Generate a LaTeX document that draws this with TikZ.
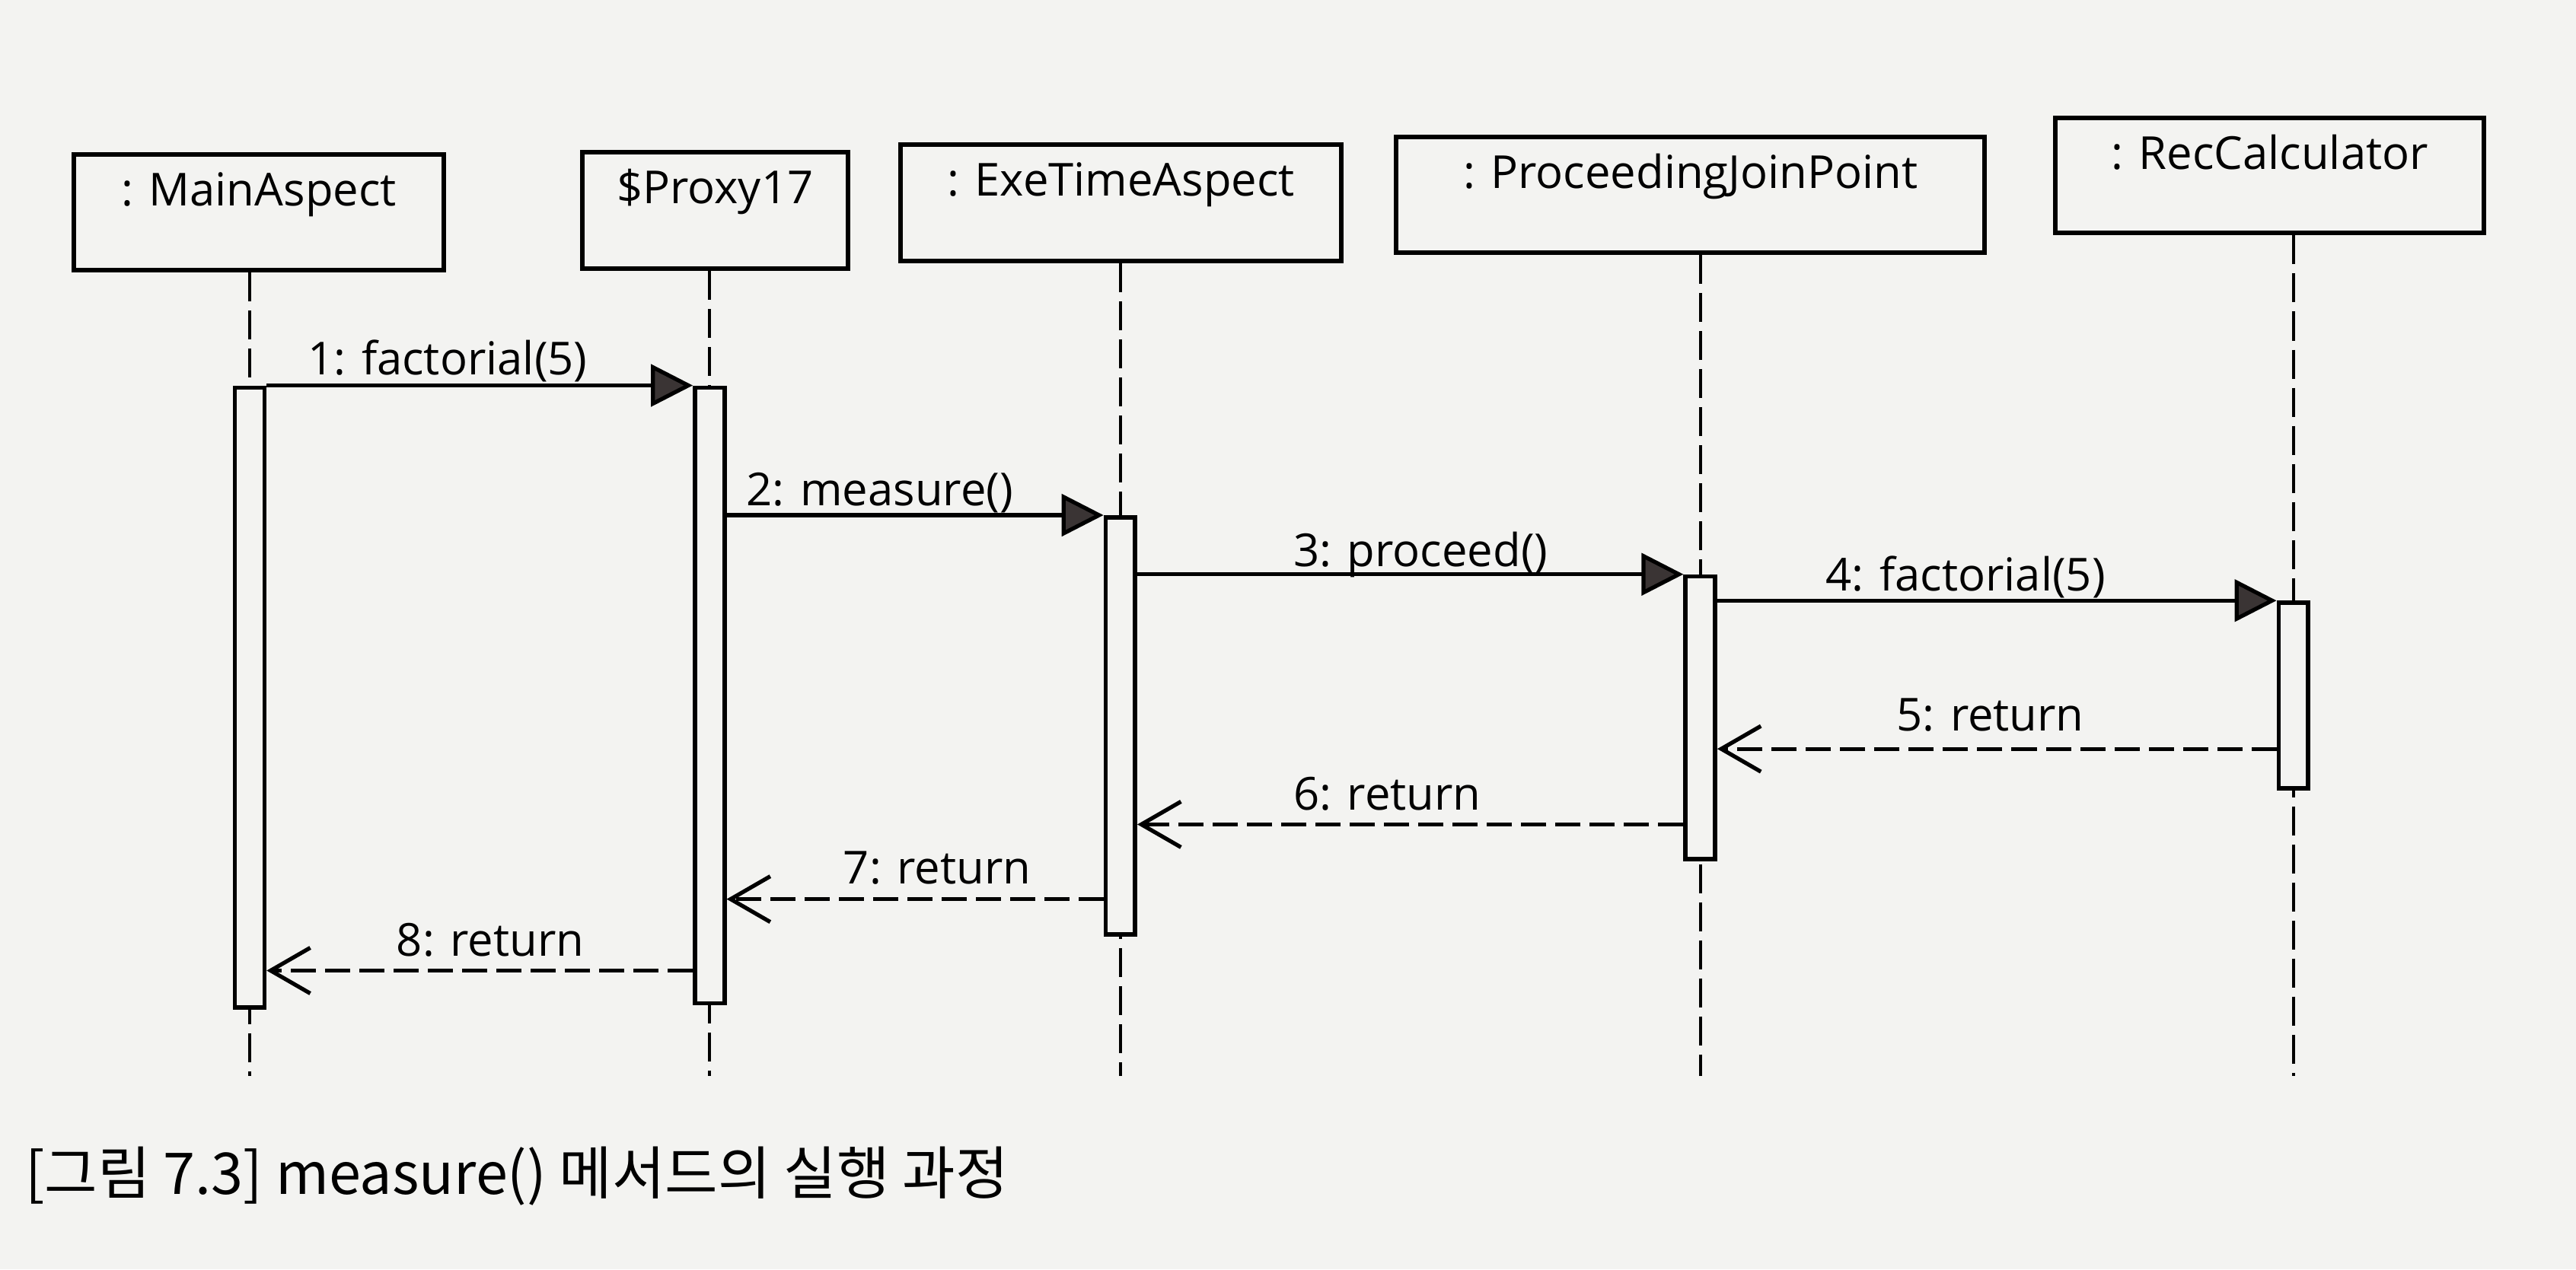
\documentclass[tikz,border=0pt]{standalone}
\usepackage{fontspec}
\setmainfont{Open Sans}
\newfontfamily\krfont{Noto Sans CJK KR}
\usetikzlibrary{arrows.meta,calc}
\definecolor{paper}{HTML}{F3F3F1}
\definecolor{tipfill}{HTML}{3A3434}
\begin{document}
\begin{tikzpicture}[x=0.02158cm,y=-0.02158cm,
  obj/.style={draw=black, line width=1.7pt, fill=paper, inner sep=0pt},
  objtext/.style={anchor=base, font=\fontsize{17}{20}\selectfont, inner sep=0pt},
  msgtext/.style={anchor=base west, font=\fontsize{17}{20}\selectfont, inner sep=0pt},
  lifeline/.style={line width=1.2pt, dash pattern=on 0.38cm off 0.12cm},
  actbar/.style={draw=black, line width=1.6pt, fill=paper, inner sep=0pt, minimum width=18*0.02158cm},
  call/.style={line width=1.5pt, -{Triangle[length=0.55cm,width=0.55cm,fill=tipfill]}},
  ret/.style={line width=1.5pt, dash pattern=on 0.33cm off 0.12cm, -{Straight Barb[length=0.52cm,width=0.6cm]}},
]
\fill[paper] (0,0) rectangle (1568,773);
\useasboundingbox (0,0) rectangle (1568,773);

% objects
\node[obj, minimum width=225*0.02158cm, minimum height=70.5*0.02158cm] (ma) at (157.5,129.25) {};
\node[obj, minimum width=161.5*0.02158cm, minimum height=71*0.02158cm] (px) at (435.25,128.2) {};
\node[obj, minimum width=268.6*0.02158cm, minimum height=71*0.02158cm] (et) at (682.3,123.5) {};
\node[obj, minimum width=358*0.02158cm, minimum height=70.6*0.02158cm] (pjp) at (1029,118.7) {};
\node[obj, minimum width=261*0.02158cm, minimum height=70*0.02158cm] (rc) at (1381.5,107) {};

\node[objtext] (mat) at ($(ma.north)+(0,32.5)$) {: MainAspect};
\node[objtext] (pxt) at ($(px.north)+(0,32.5)$) {\$Proxy17};
\node[objtext] (ett) at ($(et.north)+(0,32.5)$) {: ExeTimeAspect};
\node[objtext] (pjpt) at ($(pjp.north)+(0,32.5)$) {: ProceedingJoinPoint};
\node[objtext] (rct) at ($(rc.north)+(0,32.5)$) {: RecCalculator};

% lifelines
\coordinate (maE) at (152,655);
\coordinate (pxE) at (432,655);
\coordinate (etE) at (682,655);
\coordinate (pjpE) at (1035,655);
\coordinate (rcE) at (1396,655);
\draw[lifeline] (ma.south -| maE) -- (maE);
\draw[lifeline] (px.south -| pxE) -- (pxE);
\draw[lifeline] (et.south -| etE) -- (etE);
\draw[lifeline] (pjp.south -| pjpE) -- (pjpE);
\draw[lifeline] (rc.south -| rcE) -- (rcE);

% activation bars
\node[actbar, minimum height=377.5*0.02158cm] (mab) at (152,424.75) {};
\node[actbar, minimum height=375*0.02158cm] (pxb) at (432,423.5) {};
\node[actbar, minimum height=254*0.02158cm] (etb) at (682,442) {};
\node[actbar, minimum height=172*0.02158cm] (pjpb) at (1035,437) {};
\node[actbar, minimum height=113*0.02158cm] (rcb) at (1396,423.5) {};

% calls
\draw[call] (mab.north east) -- (pxb.north west);
\draw[call] (pxb.east |- etb.north) -- (etb.north west);
\draw[call] (etb.east |- pjpb.north) -- (pjpb.north west);
\draw[call] (pjpb.east |- rcb.north) -- (rcb.north west);

% returns
\coordinate (y5) at (0,456);
\coordinate (y6) at (0,502);
\coordinate (y7) at (0,547.5);
\coordinate (y8) at (0,591);
\draw[ret] (rcb.west |- y5) -- (pjpb.east |- y5);
\draw[ret] (pjpb.west |- y6) -- (etb.east |- y6);
\draw[ret] (etb.west |- y7) -- (pxb.east |- y7);
\draw[ret] (pxb.west |- y8) -- (mab.east |- y8);

% message labels
\node[msgtext] (m1) at (187,228) {1: factorial(5)};
\node[msgtext] (m2) at (454,308) {2: measure()};
\node[msgtext] (m3) at (787,345) {3: proceed()};
\node[msgtext] (m4) at (1111,360) {4: factorial(5)};
\node[msgtext] (m5) at (1154,445) {5: return};
\node[msgtext] (m6) at (787,493) {6: return};
\node[msgtext] (m7) at (513,538) {7: return};
\node[msgtext] (m8) at (241,582) {8: return};

% caption
\node[anchor=base west, inner sep=0pt, font=\krfont\fontsize{21.5}{25}\selectfont] (cap) at (15,727) {[그림 7.3] measure() 메서드의 실행 과정};
\end{tikzpicture}
\end{document}
